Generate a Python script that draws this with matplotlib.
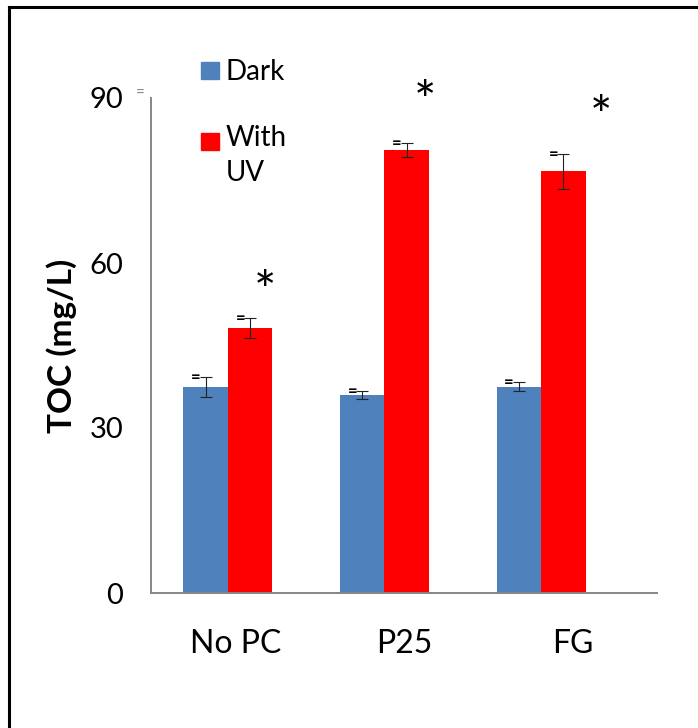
import matplotlib
matplotlib.use("Agg")
import matplotlib.pyplot as plt
from matplotlib.lines import Line2D
from matplotlib.patches import Rectangle
import numpy as np

plt.rcParams['font.family'] = ['Lato', 'DejaVu Sans']

categories = ["No PC", "P25", "FG"]
dark = [37.5, 36.0, 37.5]
dark_err = [1.8, 0.8, 0.8]
uv = [48.2, 80.5, 76.7]
uv_err = [1.8, 1.3, 3.2]
star_x = [0.24, 1.26, 2.38]
star_y = [57.3, 91.9, 89.1]
yticks = [0, 30, 60, 90]
series_names = ["Dark", "With\nUV"]

W, H = 698, 728
fig = plt.figure(figsize=(W / 100, H / 100), dpi=100)
ax = fig.add_axes([151 / W, 1 - 593 / H, (657 - 151) / W, (593 - 98) / H])

x = np.arange(len(categories))
bw = 0.284
blue = "#4f81bd"
red = "#ff0000"
ax.bar(x - bw / 2, dark, bw, color=blue, zorder=2)
ax.bar(x + bw / 2, uv, bw, color=red, zorder=2)
for xs, vals, errs in [(x - bw / 2, dark, dark_err), (x + bw / 2, uv, uv_err)]:
    ax.errorbar(xs, vals, yerr=errs, fmt="none", ecolor="#222222",
                elinewidth=0.8, capsize=4, capthick=0.8, zorder=3)
    for xi, v, e in zip(xs, vals, errs):
        ax.annotate("=", xy=(xi, v + e), xytext=(-7, 0), textcoords="offset points",
                    ha="center", va="center", fontsize=12, fontweight="bold",
                    color="black", zorder=4)

for xi, yi in zip(star_x, star_y):
    ax.annotate("*", xy=(xi, yi), xytext=(0, -12), textcoords="offset points",
                ha="center", va="center", fontsize=38, color="black",
                annotation_clip=False)

ax.set_ylim(0, 90)
xl, xr = -0.49, 2.74
ax.set_xlim(xl, xr)
ax.set_yticks(yticks)
ax.set_yticklabels([str(t) for t in yticks], fontsize=21)
third = (xr - xl) / 3
ax.set_xticks([xl + (i + 0.5) * third for i in range(3)])
ax.set_xticklabels(categories, fontsize=23)
ax.tick_params(axis="y", length=0, pad=20)
ax.tick_params(axis="x", length=0, pad=26)
ax.set_ylabel("TOC (mg/L)", fontsize=24, fontweight="bold", labelpad=9)
ax.annotate("=", xy=(0, 90), xytext=(-8, 3), textcoords="offset points",
            xycoords=("axes fraction", "data"), ha="center", va="center",
            fontsize=11, color="#868686", annotation_clip=False)

for s in ["top", "right"]:
    ax.spines[s].set_visible(False)
for s in ["left", "bottom"]:
    ax.spines[s].set_color("#868686")
    ax.spines[s].set_linewidth(1.4)

# legend (drawn manually so the red key lines up with the first text line)
def px(xp, yp):
    return xp / W, 1 - yp / H

for color, name, (sx, sy), dy in [(blue, series_names[0], (201, 62), -5),
                                  (red, series_names[1], (201, 133), 0)]:
    fx, fy = px(sx, sy + 17)
    fig.add_artist(Rectangle((fx, fy), 18 / W, 17 / H, color=color,
                             transform=fig.transFigure))
    tx, ty = px(226, sy - 8 - dy)
    fig.text(tx, ty, name, ha="left", va="top", fontsize=20, linespacing=1.45)

# outer frame
fig.add_artist(Line2D([8.5 / W, 8.5 / W], [0, 1 - 6.5 / H], color="black",
                      lw=2.2, transform=fig.transFigure))
fig.add_artist(Line2D([8.5 / W, 1], [1 - 6.5 / H, 1 - 6.5 / H], color="black",
                      lw=2.2, transform=fig.transFigure))

fig.savefig("out.png", dpi=100)
